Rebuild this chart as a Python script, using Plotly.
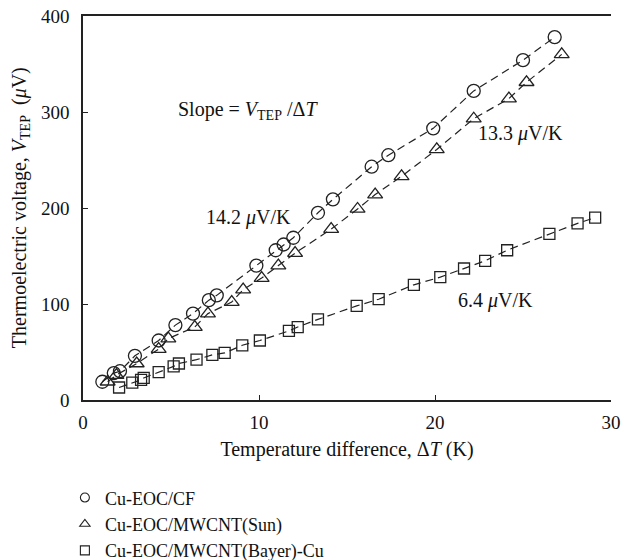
import plotly.graph_objects as go

# Cu-EOC/CF (circles)
cf_x = [1.1, 1.75, 2.1, 2.95, 4.3, 5.25, 6.25, 7.15, 7.6, 9.85, 10.95, 11.4, 11.95, 13.35, 14.2, 16.4, 17.35, 19.9, 22.2, 25.0, 26.8]
cf_y = [19, 28, 30, 46, 62, 78, 90, 104, 109, 140, 156, 162, 169, 195, 209, 243, 255, 283, 322, 354, 378]

# Cu-EOC/MWCNT(Sun) (triangles)
sun_x = [1.4, 1.9, 3.05, 4.3, 4.85, 6.35, 7.1, 8.45, 9.1, 10.15, 11.1, 12.05, 14.1, 15.6, 16.6, 18.1, 20.1, 22.2, 24.2, 25.2, 27.2]
sun_y = [19, 26, 38, 53, 64, 76, 90, 102, 115, 127, 140, 153, 178, 199, 214, 233, 261, 293, 314, 331, 360]

# Cu-EOC/MWCNT(Bayer)-Cu (squares)
bay_x = [2.05, 2.8, 3.3, 3.45, 4.3, 5.15, 5.45, 6.45, 7.35, 8.05, 9.05, 10.05, 11.7, 12.2, 13.35, 15.55, 16.8, 18.8, 20.3, 21.65, 22.85, 24.1, 26.5, 28.1, 29.1]
bay_y = [13, 18, 21, 23, 29, 35, 38, 42, 47, 49, 57, 62, 72, 76, 84, 98, 105, 120, 128, 137, 145, 156, 173, 184, 190]

names = ["Cu-EOC/CF", "Cu-EOC/MWCNT(Sun)", "Cu-EOC/MWCNT(Bayer)-Cu"]
symbols = ["circle-open", "triangle-up-open", "square-open"]
sizes = [13, 13, 11]

x_ticks = [0, 10, 20, 30]
y_ticks = [0, 100, 200, 300, 400]

x_title = "Temperature difference, Δ<i>T</i> (K)"
y_title = "Thermoelectric voltage, <i>V</i><sub>TEP</sub>  (<i>μ</i>V)"

FONT = "Liberation Serif"
INK = "#222222"
TXT = "#111111"

fig = go.Figure()
series = [(cf_x, cf_y), (sun_x, sun_y), (bay_x, bay_y)]
for (xs, ys) in series:
    fig.add_trace(go.Scatter(x=xs, y=ys, mode="lines", showlegend=False,
                             line=dict(color=INK, width=1.2, dash="8px,5px"),
                             hoverinfo="skip"))
for (xs, ys), nm, sym, sz in zip(series, names, symbols, sizes):
    fig.add_trace(go.Scatter(x=xs, y=ys, mode="markers", name=nm, showlegend=False,
                             marker=dict(symbol=sym, size=sz, color=INK,
                                         line=dict(width=1.3, color=INK))))
# legend entries (small symbols, as in the reference key)
for nm, sym in zip(names, symbols):
    fig.add_trace(go.Scatter(x=[None], y=[None], mode="markers", name=nm,
                             marker=dict(symbol=sym, size=9, color=INK,
                                         line=dict(width=1.1, color=INK))))

ann_font = dict(family=FONT, size=20, color=TXT)
fig.add_annotation(x=5.3, y=302, xanchor="left", yanchor="middle", showarrow=False,
                   text="Slope = <i>V</i><sub>TEP</sub> /Δ<i>T</i>", font=ann_font)
fig.add_annotation(x=6.9, y=190, xanchor="left", yanchor="middle", showarrow=False,
                   text="14.2 <i>μ</i>V/K", font=ann_font)
fig.add_annotation(x=22.35, y=278, xanchor="left", yanchor="middle", showarrow=False,
                   text="13.3 <i>μ</i>V/K", font=ann_font)
fig.add_annotation(x=21.2, y=104, xanchor="left", yanchor="middle", showarrow=False,
                   text="6.4 <i>μ</i>V/K", font=ann_font)
# y-axis title
fig.add_annotation(xref="paper", yref="paper", x=-0.119, y=0.5, xanchor="center",
                   yanchor="middle", textangle=-90, showarrow=False, text=y_title,
                   font=dict(family=FONT, size=20, color=TXT))

fig.update_layout(
    width=624, height=560,
    margin=dict(l=83, r=13, t=16, b=160, autoexpand=False),
    paper_bgcolor="white", plot_bgcolor="white",
    font=dict(family=FONT, size=19, color=TXT),
    showlegend=True,
    legend=dict(orientation="v", xref="container", x=0.104, xanchor="left",
                yref="container", y=0.144, yanchor="top",
                font=dict(family=FONT, size=18, color=TXT),
                tracegroupgap=0, bgcolor="rgba(0,0,0,0)"),
    xaxis=dict(range=[0, 30], tickvals=x_ticks, ticks="inside", ticklen=5,
               tickcolor=INK, showline=True, linecolor=INK, linewidth=1.8,
               mirror=True, showgrid=False, zeroline=False, ticklabelstandoff=4,
               tickfont=dict(family=FONT, size=19, color=TXT),
               title=dict(text=x_title, standoff=10,
                          font=dict(family=FONT, size=20, color=TXT))),
    yaxis=dict(range=[0, 400], tickvals=y_ticks, ticks="inside", ticklen=5,
               tickcolor=INK, showline=True, linecolor=INK, linewidth=1.6,
               showgrid=False, zeroline=False, ticklabelstandoff=8,
               tickfont=dict(family=FONT, size=19, color=TXT)),
)

fig.write_html("out.html", config={"displayModeBar": False},
               post_script="document.body.style.margin='0';document.body.style.overflow='hidden';")
